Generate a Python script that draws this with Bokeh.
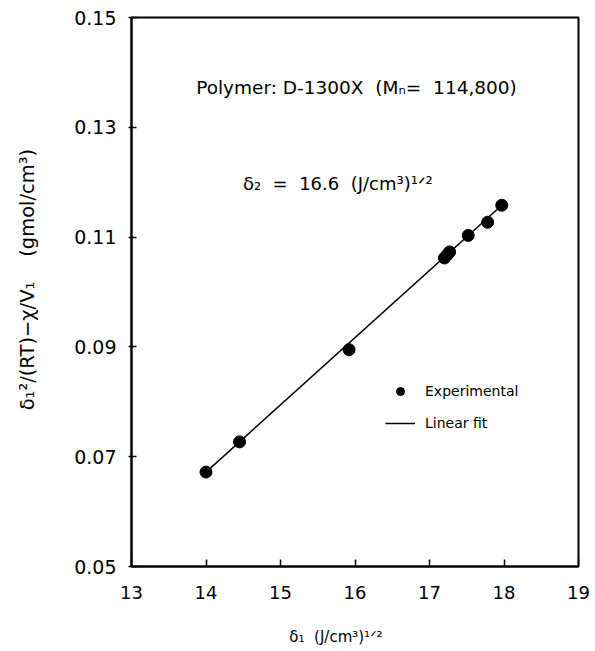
from bokeh.plotting import figure
from bokeh.models import (Range1d, FixedTicker, PrintfTickFormatter, Legend,
                          LegendItem, Label, ColumnDataSource)
from bokeh.embed import file_html
from bokeh.resources import INLINE

# ---- data ----
solvent_delta = [14.0, 14.45, 15.92, 17.2, 17.24, 17.27, 17.52, 17.78, 17.97]
y_value = [0.0672, 0.0727, 0.0895, 0.1062, 0.1068, 0.1073, 0.1103, 0.1127, 0.1158]
fit_x = [14.0, 17.97]
fit_y = [0.0672, 0.1158]
x_ticks = [13, 14, 15, 16, 17, 18, 19]
y_ticks = [0.05, 0.07, 0.09, 0.11, 0.13, 0.15]

FONT = "DejaVu Sans"
NB = "\u00a0"

p = figure(width=595, height=651, output_backend="svg", toolbar_location=None,
           x_range=Range1d(13, 19), y_range=Range1d(0.05, 0.15),
           min_border_left=131, min_border_right=17, min_border_top=17,
           min_border_bottom=85)
p.grid.visible = False
p.outline_line_color = "black"
p.outline_line_width = 2
p.background_fill_color = "white"
p.border_fill_color = "white"

# axes
p.xaxis.ticker = FixedTicker(ticks=x_ticks)
p.yaxis.ticker = FixedTicker(ticks=y_ticks)
p.yaxis.formatter = PrintfTickFormatter(format="%.2f")
for ax in (p.xaxis[0], p.yaxis[0]):
    ax.axis_line_width = 2
    ax.axis_line_color = "black"
    ax.major_tick_line_width = 1.5
    ax.major_tick_line_color = "black"
    ax.minor_tick_line_color = None
    ax.major_label_text_font = FONT
    ax.major_label_text_color = "black"
    ax.axis_label_text_font = FONT
    ax.axis_label_text_font_style = "normal"
    ax.axis_label_text_color = "black"

p.xaxis.major_tick_in = 7
p.xaxis.major_tick_out = 0
p.xaxis.major_label_text_font_size = "18px"
p.xaxis.major_label_standoff = 19
p.xaxis.axis_label = "δ₁" + NB + " (J/cm³)¹ᐟ²" + NB * 8
p.xaxis.axis_label_text_font_size = "15px"
p.xaxis.axis_label_standoff = 26

p.yaxis.major_tick_in = 5
p.yaxis.major_tick_out = 3
p.yaxis.major_label_text_font_size = "19px"
p.yaxis.major_label_standoff = 12
p.yaxis.axis_label = NB * 4 + "δ₁²/(RT)−χ/V₁" + NB * 3 + " (gmol/cm³)"
p.yaxis.axis_label_text_font_size = "19.5px"
p.yaxis.axis_label_standoff = 32

# glyphs
src = ColumnDataSource(dict(x=solvent_delta, y=y_value))
fit = p.line(fit_x, fit_y, line_color="black", line_width=1.5)
pts = p.scatter("x", "y", source=src, size=12, fill_color="black",
                line_color="black")

legend = Legend(items=[LegendItem(label="Experimental", renderers=[pts]),
                       LegendItem(label="Linear fit", renderers=[fit])],
                location=(254, 133), border_line_color=None,
                background_fill_alpha=0, padding=0, margin=0,
                spacing=12, glyph_width=30, glyph_height=20,
                label_standoff=10, label_text_font=FONT,
                label_text_font_size="14px", label_text_color="black")
p.add_layout(legend)

p.add_layout(Label(x=16.02, y=0.1372,
                   text="Polymer: D-1300X" + NB + " (Mₙ=" + NB + " 114,800)",
                   text_align="center", text_baseline="middle",
                   text_font=FONT, text_font_size="18.5px", text_color="black"))
p.add_layout(Label(x=15.77, y=0.1198,
                   text="δ₂" + NB + " =" + NB + " 16.6" + NB + " (J/cm³)¹ᐟ²",
                   text_align="center", text_baseline="middle",
                   text_font=FONT, text_font_size="18px", text_color="black"))

open("out.html", "w").write(file_html(p, INLINE))
